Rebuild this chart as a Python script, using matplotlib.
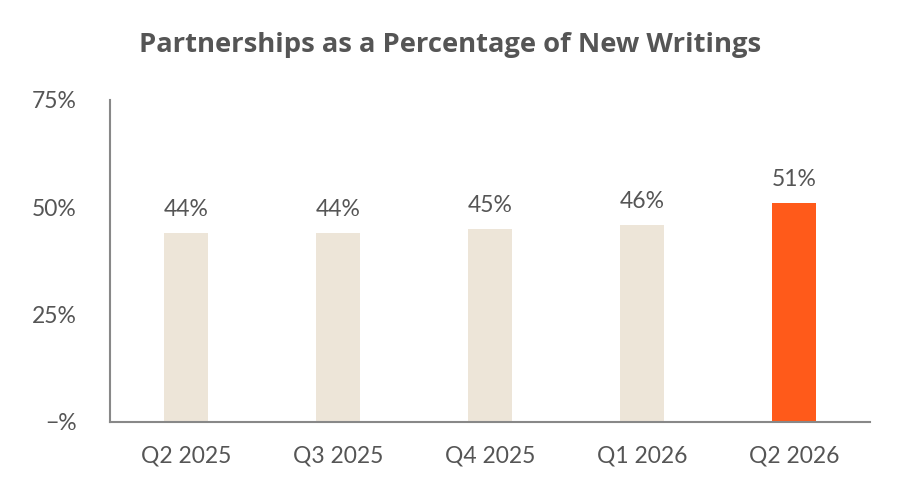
import matplotlib.pyplot as plt
from matplotlib.ticker import FixedLocator

quarters = ['Q2 2025', 'Q3 2025', 'Q4 2025', 'Q1 2026', 'Q2 2026']
share_pct = [44, 44, 45, 46, 51]
value_labels = ['44%', '44%', '45%', '46%', '51%']
ytick_vals = [0, 25, 50, 75]
ytick_labels = ['\u2212%', '25%', '50%', '75%']

beige = '#EDE5D8'
orange = '#FF5A1A'
text_gray = '#555555'
axis_gray = '#888888'

bar_colors = [beige] * (len(quarters) - 1) + [orange]

fig = plt.figure(figsize=(9, 5), dpi=100)
ax = fig.add_axes([0.1222, 0.156, 0.8445, 0.644])

x = list(range(len(quarters)))
ax.bar(x, share_pct, width=0.29, color=bar_colors, zorder=2)

for xi, v, lab in zip(x, share_pct, value_labels):
    ax.text(xi, v + 3.0, lab, ha='center', va='bottom',
            fontsize=16.5, color=text_gray, family='Lato')

ax.set_xlim(-0.5, len(quarters) - 0.5)
ax.set_ylim(0, 75)
ax.set_xticks(x)
ax.set_xticklabels(quarters)
ax.yaxis.set_major_locator(FixedLocator(ytick_vals))
ax.set_yticklabels(ytick_labels)
ax.tick_params(axis='both', length=0, labelsize=16.5, labelcolor=text_gray)
ax.tick_params(axis='x', pad=17)
ax.tick_params(axis='y', pad=24)
for lab in ax.get_xticklabels() + ax.get_yticklabels():
    lab.set_family('Lato')

for side in ['top', 'right']:
    ax.spines[side].set_visible(False)
for side in ['left', 'bottom']:
    ax.spines[side].set_color(axis_gray)
    ax.spines[side].set_linewidth(1.5)

fig.text(0.5, 0.91, 'Partnerships as a Percentage of New Writings',
         ha='center', va='center', fontsize=19.7, fontweight='bold',
         color=text_gray, family='Open Sans')

fig.savefig('out.png', dpi=100)
